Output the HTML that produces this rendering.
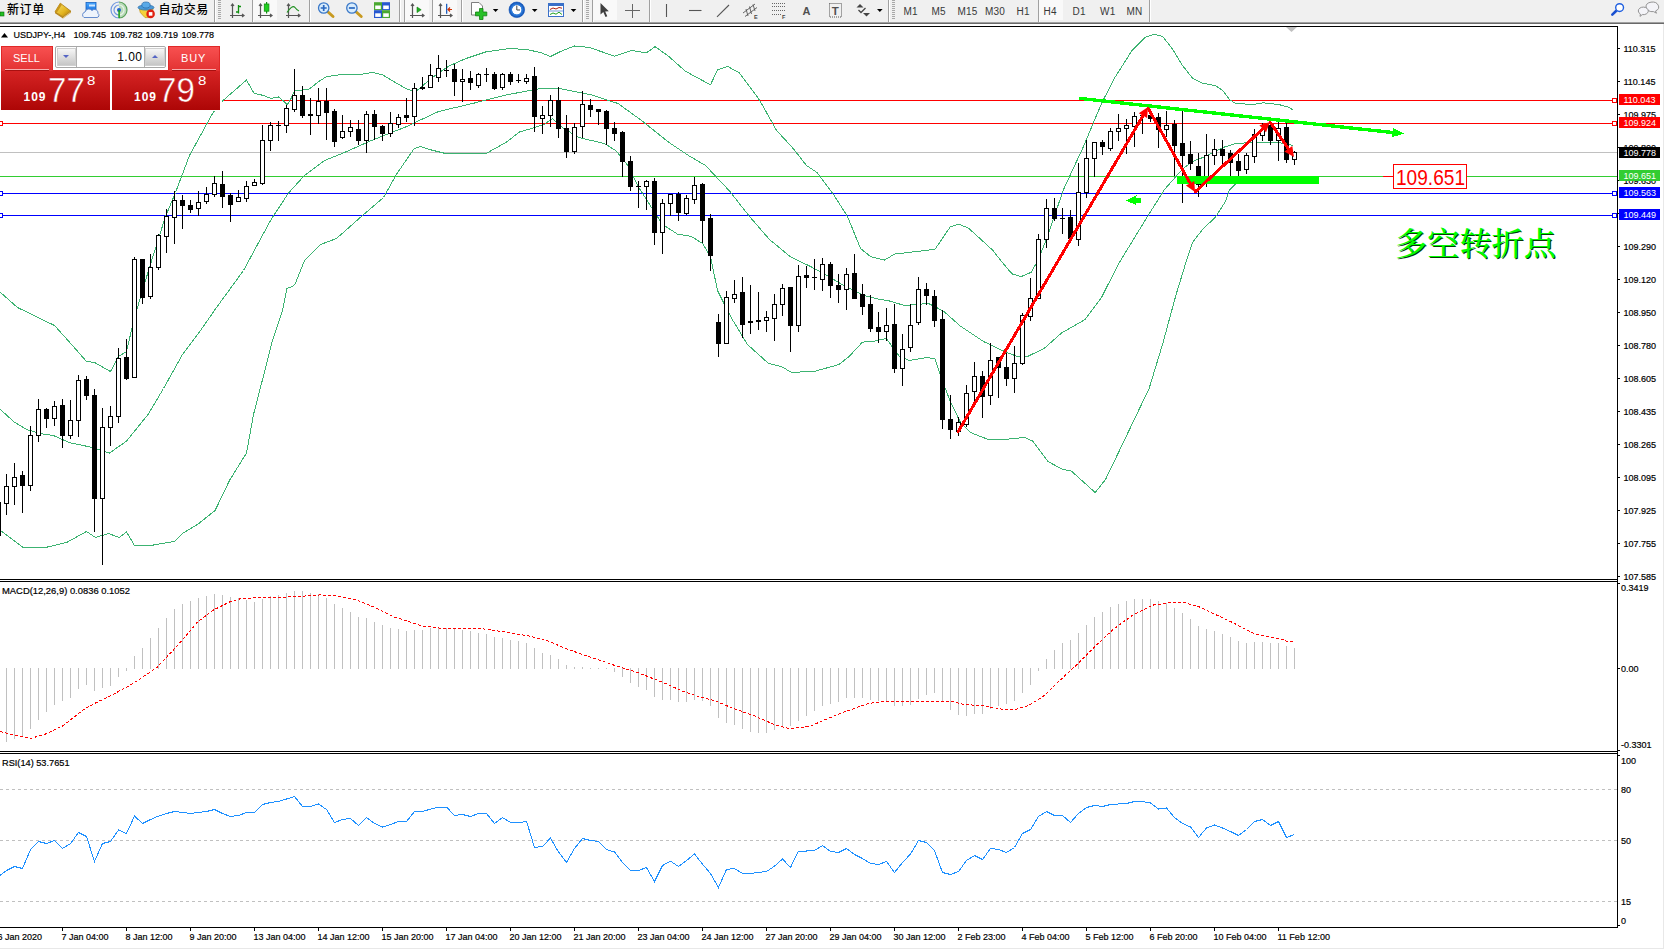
<!DOCTYPE html>
<html><head><meta charset="utf-8"><title>USDJPY-,H4</title>
<style>
html,body{margin:0;padding:0;}
body{width:1664px;height:949px;overflow:hidden;background:#fff;position:relative;font-family:'Liberation Sans', sans-serif;}
#tb{position:absolute;left:0;top:0;width:1664px;height:22px;background:#f0f0f0;overflow:hidden;}
#tbl1{position:absolute;left:0;top:22px;width:1664px;height:1px;background:#a0a0a0;}
#tbl2{position:absolute;left:0;top:23px;width:1664px;height:1px;background:#696969;}
.sep{position:absolute;top:0;width:1px;height:22px;background:#a0a0a0;border-right:1px solid #fff;}
.grip{position:absolute;top:0;width:3px;height:20px;background:repeating-linear-gradient(to bottom,#a8a8a8 0,#a8a8a8 1px,transparent 1px,transparent 2px);}
.pressed{position:absolute;top:0;height:20px;background:#f9f9f9;}
.tf{position:absolute;top:5.6px;font-size:10px;line-height:12px;color:#383838;white-space:nowrap;letter-spacing:0.2px;}
.cn{position:absolute;top:1px;font-size:12px;line-height:18px;color:#000;font-weight:500;letter-spacing:0.6px;white-space:nowrap;font-family:'Liberation Sans', 'Noto Sans CJK SC', sans-serif;}
.ico{position:absolute;left:0;top:0;}
#chart{position:absolute;left:0;top:0;}
#rb{position:absolute;left:1663px;top:24px;width:1px;height:925px;background:#e8e8e8;}
#bb{position:absolute;left:0;top:948px;width:1664px;height:1px;background:#e8e8e8;}
/* trade panel */
#tp{position:absolute;left:0;top:0;width:230px;height:115px;color:#fff;}
#tp div{position:absolute;box-sizing:border-box;}
.tab{background:linear-gradient(#f85050,#e23232);border:1px solid #e02828;}
.big{background:linear-gradient(#d62424,#ad0606);}
.lbl{font-size:11px;line-height:12px;color:#fff;}
.s109{font-size:12px;font-weight:700;line-height:12px;letter-spacing:1px;}
.sbig{font-size:34.5px;line-height:34.5px;-webkit-text-stroke:0.5px #c61b1b;transform-origin:left top;transform:scaleX(0.96);}
.ssup{font-size:12px;line-height:12px;transform-origin:left top;transform:scaleX(1.25);}
</style></head><body>
<div id="tb">
<div class="sep" style="left:214px"></div>
<div class="sep" style="left:252px"></div>
<div class="sep" style="left:309px"></div>
<div class="sep" style="left:399px"></div>
<div class="sep" style="left:404px"></div>
<div class="sep" style="left:432px"></div>
<div class="sep" style="left:461px"></div>
<div class="sep" style="left:582px"></div>
<div class="sep" style="left:592px"></div>
<div class="sep" style="left:649px"></div>
<div class="sep" style="left:888px"></div>
<div class="sep" style="left:1038px"></div>
<div class="sep" style="left:1149px"></div>
<div class="grip" style="left:218px"></div>
<div class="grip" style="left:586px"></div>
<div class="grip" style="left:892px"></div>
<div class="pressed" style="left:253px;width:24px"></div>
<div class="pressed" style="left:405px;width:24px"></div>
<div class="pressed" style="left:433px;width:24px"></div>
<div class="pressed" style="left:593px;width:24px"></div>
<div class="pressed" style="left:1039px;width:24px"></div>
<span class="cn" style="left:7px">新订单</span>
<span class="cn" style="left:158.5px">自动交易</span>
<span class="tf" style="left:903.5px">M1</span>
<span class="tf" style="left:931.5px">M5</span>
<span class="tf" style="left:957.5px">M15</span>
<span class="tf" style="left:985px">M30</span>
<span class="tf" style="left:1016.5px">H1</span>
<span class="tf" style="left:1043.5px">H4</span>
<span class="tf" style="left:1072.5px">D1</span>
<span class="tf" style="left:1100px">W1</span>
<span class="tf" style="left:1126.5px">MN</span>

<svg class="ico" width="1664" height="22" viewBox="0 0 1664 22">
<defs>
<linearGradient id="gold" x1="0" y1="0" x2="1" y2="1"><stop offset="0" stop-color="#fbe36a"/><stop offset="0.6" stop-color="#e2b420"/><stop offset="1" stop-color="#a06a08"/></linearGradient>
<linearGradient id="blu" x1="0" y1="0" x2="0" y2="1"><stop offset="0" stop-color="#4aa8ff"/><stop offset="1" stop-color="#1268d8"/></linearGradient>
<radialGradient id="clk"><stop offset="0.55" stop-color="#ffffff"/><stop offset="0.62" stop-color="#3a86e0"/><stop offset="1" stop-color="#0b4fb5"/></radialGradient>
</defs>
<!-- new order green piece -->
<rect x="0" y="12" width="4" height="4" fill="#22c022" stroke="#0a6a0a" stroke-width="0.6"/>
<!-- gold book -->
<polygon points="60.3,3.2 71,11.3 63,17 55,11.8" fill="url(#gold)" stroke="#a87810" stroke-width="0.8"/>
<polygon points="55,11.8 63,17 71,11.3 71,12.8 63,18.6 55,13.3" fill="#b8861a"/>
<polygon points="60.3,3.2 62,4.4 56.8,12.8 55,11.8" fill="#c8961c"/>
<line x1="63.2" y1="17.8" x2="70.6" y2="12.4" stroke="#fff6d0" stroke-width="0.6"/>
<!-- cloud/server -->
<rect x="86" y="2.5" width="10" height="10" fill="url(#blu)" stroke="#1560c0" stroke-width="0.8"/>
<rect x="89" y="4.5" width="6" height="2" fill="#cfe8ff"/>
<path d="M84,17.5 a3,3 0 0 1 1,-5.5 a4,4 0 0 1 7,-1.5 a3.5,3.5 0 0 1 6,3 a2.2,2.2 0 0 1 -1,4 z" fill="#eef4fc" stroke="#5580c8" stroke-width="0.9"/>
<!-- signal -->
<path d="M119,2 a8,8 0 0 1 0,16 z" fill="#a8d4a8" opacity="0.75"/>
<g fill="none" stroke-width="1.2">
<path d="M119,2 a8,8 0 0 0 0,16" stroke="#7098e0"/>
<path d="M119,5 a5,5 0 0 0 0,10" stroke="#7098e0"/>
<path d="M119,2 a8,8 0 0 1 0,16" stroke="#58a058"/>
<path d="M119,5 a5,5 0 0 1 0,10" stroke="#e8f4e8"/>
</g>
<circle cx="119" cy="10" r="2" fill="#2060d0"/>
<rect x="118.3" y="10" width="1.6" height="8" fill="#20a020"/>
<!-- expert hat -->
<polygon points="139.3,8.5 153,8.5 152.6,12.5 148.5,17.6 145,17.6 140.3,12.5" fill="#f4d23a" stroke="#c09010" stroke-width="0.7"/>
<ellipse cx="146" cy="7.5" rx="8" ry="2.6" fill="#4a9ad8" stroke="#2a6aa8" stroke-width="0.7"/>
<ellipse cx="146" cy="5" rx="4.2" ry="3" fill="#5aaae8" stroke="#2a6aa8" stroke-width="0.7"/>
<circle cx="150.6" cy="13.9" r="4.3" fill="#e02010"/>
<rect x="148.8" y="12.1" width="3.6" height="3.6" fill="#fff"/>
<!-- chart type icons -->
<g stroke="#555" stroke-width="1.2" fill="none">
<path d="M232.5,4.5 V18 M230,15.5 H243"/><path d="M231,6 L232.5,4 L234,6 M242,14 L244,15.5 L242,17"/>
<path d="M260.5,4.5 V18 M258,15.5 H271"/><path d="M259,6 L260.5,4 L262,6 M270,14 L272,15.5 L270,17"/>
<path d="M288.5,4.5 V18 M286,15.5 H299"/><path d="M287,6 L288.5,4 L290,6 M298,14 L300,15.5 L298,17"/>
<path d="M412.5,4.5 V18 M410,15.5 H423"/><path d="M411,6 L412.5,4 L414,6 M422,14 L424,15.5 L422,17"/>
<path d="M440.5,4.5 V18 M438,15.5 H451"/><path d="M439,6 L440.5,4 L442,6 M450,14 L452,15.5 L450,17"/>
</g>
<path d="M238.5,5 V13.5 M238.5,6.5 H241 M236,12 H238.5" stroke="#109010" stroke-width="1.3" fill="none"/>
<rect x="266" y="2" width="1.2" height="11.5" fill="#109010"/><rect x="264.3" y="4" width="4.6" height="7.2" fill="#20d020" stroke="#109010" stroke-width="0.8"/>
<path d="M287,12.5 C290,8 293,5 295,7.5 C296.5,9.5 297.5,10.5 299,11" stroke="#209020" stroke-width="1.2" fill="none"/>
<polygon points="417,7 421.2,9.8 417,12.6" fill="#20b020" stroke="#108010" stroke-width="0.6"/>
<rect x="446" y="3.8" width="1.3" height="10" fill="#2060c0"/>
<path d="M452,9.5 H448 M450,7.5 L448,9.5 L450,11.5" stroke="#d03000" stroke-width="1.2" fill="none"/>
<!-- zoom in/out -->
<g>
<line x1="327.5" y1="11.5" x2="333" y2="16.5" stroke="#c89a20" stroke-width="3" stroke-linecap="round"/>
<circle cx="323.7" cy="8" r="5.2" fill="#d8ecfc" stroke="#3a78c8" stroke-width="1.3"/>
<path d="M320.7,8 H326.7 M323.7,5 V11" stroke="#2a68c0" stroke-width="1.7"/>
<line x1="355.7" y1="11.5" x2="361.2" y2="16.5" stroke="#c89a20" stroke-width="3" stroke-linecap="round"/>
<circle cx="351.9" cy="8" r="5.2" fill="#d8ecfc" stroke="#3a78c8" stroke-width="1.3"/>
<path d="M348.9,8 H354.9" stroke="#2a68c0" stroke-width="1.7"/>
</g>
<!-- tile icon -->
<rect x="374" y="2.2" width="8" height="8" fill="#4aa830"/><rect x="382" y="2.2" width="8" height="8" fill="#2858d0"/>
<rect x="374" y="10.2" width="8" height="7.8" fill="#2858d0"/><rect x="382" y="10.2" width="8" height="7.8" fill="#4aa830"/>
<g fill="#fff"><rect x="375.2" y="5.5" width="5.6" height="3.6"/><rect x="383.2" y="5.5" width="5.6" height="3.6"/><rect x="375.2" y="13.3" width="5.6" height="3.6"/><rect x="383.2" y="13.3" width="5.6" height="3.6"/></g>
<!-- new chart -->
<path d="M471.5,2.5 H479 L482.5,6 V15 H471.5 Z" fill="#fff" stroke="#707070" stroke-width="0.9"/>
<path d="M479.5,8.5 H483 V12 H486.8 V15.8 H483 V19.5 H479.5 V15.8 H475.5 V12 H479.5 Z" fill="#28c028" stroke="#108010" stroke-width="0.8"/>
<polygon points="492.8,9 498.4,9 495.6,12" fill="#000"/>
<!-- clock -->
<circle cx="516.8" cy="9.8" r="7.8" fill="url(#clk)" stroke="#0b4fb5" stroke-width="0.6"/>
<path d="M516.8,5.5 V10 H520" stroke="#444" stroke-width="1" fill="none"/>
<polygon points="531.9,9 537.5,9 534.7,12" fill="#000"/>
<!-- indicators -->
<rect x="548.5" y="3.5" width="15" height="13" fill="#fff" stroke="#3a70c8" stroke-width="1"/>
<rect x="548.5" y="3.5" width="15" height="2.5" fill="#3a70c8"/>
<path d="M550,9.5 L553,8 L556,9 L559,7.5 L562,8.2" stroke="#b02010" stroke-width="1" fill="none"/>
<path d="M550,14.5 L553,13 L556,14.2 L559,12.2 L562,14.5" stroke="#20a020" stroke-width="1" fill="none"/>
<line x1="549" y1="11" x2="563" y2="11" stroke="#3a70c8" stroke-width="0.7"/>
<polygon points="570.7,9 576.3,9 573.5,12" fill="#000"/>
<!-- cursor -->
<polygon points="600.5,3 600.5,14.5 603.3,12 605.5,17 607.3,16.2 605.2,11.4 608.8,11.2" fill="#404040"/>
<!-- crosshair -->
<path d="M632.5,3.5 V17.5 M625,10.5 H640" stroke="#666" stroke-width="1" shape-rendering="crispEdges"/>
<!-- line tools -->
<path d="M666.5,4 V17" stroke="#555" stroke-width="1.1"/>
<path d="M689,10.5 H701.5" stroke="#555" stroke-width="1.1"/>
<path d="M717,16.8 L729,5" stroke="#555" stroke-width="1.1"/>
<g stroke="#555" stroke-width="0.9"><path d="M743,13 L755,4 M745,16.5 L757,7.5 M746,9 L748,16 M749.5,6.5 L751.5,14 M753,4.5 L755,11"/></g>
<g stroke="#666" stroke-width="1" stroke-dasharray="1,1"><path d="M772,3.5 H785 M772,6.5 H785 M772,10.5 H785 M772,14.5 H781"/></g>
<!-- A, T via text below -->
<rect x="829.5" y="3.5" width="12" height="13.5" fill="none" stroke="#555" stroke-width="1" stroke-dasharray="1,1"/>
<!-- arrows icon -->
<polygon points="860,4 863.5,7.5 856.5,7.5" fill="#444"/><polygon points="866.5,16.5 863,13 870,13" fill="#444"/>
<polygon points="860,11 863.5,7.5 856.5,7.5" fill="#444" opacity="0"/>
<path d="M858.5,10 L861,12.5 L865.5,8" stroke="#444" stroke-width="1.3" fill="none"/>
<polygon points="877,9 882.6,9 879.8,12" fill="#000"/>
<!-- search -->
<line x1="1616.3" y1="10.8" x2="1612.3" y2="14.6" stroke="#1a50d0" stroke-width="2.6" stroke-linecap="round"/>
<circle cx="1619.6" cy="7.6" r="3.9" fill="#fff" stroke="#2060e0" stroke-width="1.4"/>
<!-- chat bubbles -->
<path d="M1646,7 a6.3,4.8 0 1 1 9.5,4 l1,2.2 l-3,-1.6 a6.3,4.8 0 0 1 -7.5,-4.6 z" fill="#f4f4f8" stroke="#888" stroke-width="0.9"/>
<path d="M1638.3,11 a5,3.8 0 1 1 4,3.6 l-2.3,1.8 l0.4,-2.4 a5,3.8 0 0 1 -2.1,-3 z" fill="#f4f4f8" stroke="#888" stroke-width="0.9"/>
<text x="802.5" y="14.6" font-size="11" font-weight="700" fill="#505050" font-family="'Liberation Sans', sans-serif">A</text>
<text x="831.8" y="14.8" font-size="11.5" font-weight="700" fill="#505050" font-family="'Liberation Sans', sans-serif">T</text>
<text x="754" y="18.7" font-size="5.5" font-weight="700" fill="#444" font-family="'Liberation Sans', sans-serif">E</text>
<text x="782" y="18.7" font-size="5.5" font-weight="700" fill="#444" font-family="'Liberation Sans', sans-serif">F</text>
</svg>

</div>
<div id="tbl1"></div><div id="tbl2"></div>
<svg id="chart" width="1664" height="949" viewBox="0 0 1664 949">
<defs><clipPath id="mainclip"><rect x="0" y="27" width="1617" height="552"/></clipPath></defs>
<g shape-rendering="crispEdges">
<rect x="0" y="152" width="1617" height="1" fill="#c0c0c0"/>
<rect x="0" y="100" width="1617" height="1" fill="#ff0000"/>
<rect x="0" y="123" width="1617" height="1" fill="#ff0000"/>
<rect x="0" y="176" width="1617" height="1" fill="#32cd32"/>
<rect x="0" y="193" width="1617" height="1" fill="#0000ff"/>
<rect x="0" y="215" width="1617" height="1" fill="#0000ff"/>
</g>
<g clip-path="url(#mainclip)">
<polyline points="0.5,292.5 17.5,307.5 54.5,325.5 72.5,345.5 86.5,361.5 94.5,362.5 110.5,371.5 118.5,356.5 126.5,351.5 134.5,317.5 142.5,290.5 148.5,270.5 165.5,216.5 175.5,192.5 189.5,155.5 212.5,113.5 223.0,100.5 246.5,80.0 254.2,93.5 262.5,95.2 271.1,98.5 278.5,96.9 283.5,101.1 287.1,104.8 290.5,99.5 294.5,91.0 309.5,88.9 318.5,81.7 326.5,76.6 338.5,74.9 346.9,74.1 358.5,74.9 372.2,72.4 382.5,74.9 394.1,81.7 405.9,88.5 412.5,91.0 417.5,90.1 431.2,78.3 448.1,66.5 464.9,58.9 485.5,52.0 509.5,48.5 526.5,49.5 540.5,52.5 550.5,56.5 560.5,51.5 574.5,46.0 589.5,47.5 614.5,56.2 631.5,50.5 646.5,52.8 655.1,46.7 668.5,56.2 685.5,71.3 710.5,84.8 717.5,70.0 727.5,66.3 739.5,73.0 759.5,100.0 776.5,130.3 793.5,148.9 806.5,165.5 817.0,172.5 833.5,194.5 847.5,216.5 860.5,248.5 870.5,256.5 884.5,260.1 894.5,254.1 935.0,249.3 950.1,227.1 958.5,224.1 968.5,228.1 992.5,250.0 1000.8,260.5 1009.1,270.5 1012.5,274.0 1021.0,276.7 1031.1,272.3 1037.9,260.5 1046.2,239.9 1063.5,189.5 1083.5,146.5 1101.5,103.5 1114.5,78.1 1132.0,50.5 1145.5,37.1 1154.5,34.3 1162.5,36.3 1172.5,49.0 1182.5,65.5 1192.5,78.1 1202.5,83.1 1215.5,85.7 1223.0,90.7 1229.5,99.5 1235.5,103.5 1253.5,104.5 1263.5,102.8 1278.5,104.5 1288.5,107.1 1293.5,110.2" fill="none" stroke="#3cb371" stroke-width="1" shape-rendering="crispEdges"/>
<polyline points="0.5,409.5 13.5,421.5 26.5,429.5 40.0,433.5 53.5,435.5 69.0,442.5 92.5,447.5 109.5,453.0 126.5,441.1 148.0,414.5 163.5,388.5 182.5,354.5 200.5,330.5 216.5,307.5 243.5,270.5 270.5,220.5 288.5,193.0 304.5,175.5 324.5,160.5 344.5,152.5 371.5,140.5 405.5,127.0 438.5,111.5 472.5,103.5 506.5,94.9 540.5,88.5 557.5,88.2 591.5,94.9 618.0,103.5 641.5,120.5 668.5,142.1 688.5,155.5 705.5,165.5 729.5,191.0 749.5,216.5 769.5,239.5 790.0,256.5 810.5,266.5 827.1,275.5 843.5,285.5 864.5,295.5 877.5,298.9 889.5,301.0 904.5,305.5 928.5,303.5 943.5,311.1 960.5,326.2 983.5,341.5 1004.5,351.5 1017.5,356.5 1027.5,356.5 1044.5,348.2 1061.5,333.0 1085.1,319.5 1101.5,297.5 1118.5,263.9 1147.1,217.1 1164.5,189.5 1182.5,169.1 1192.5,161.5 1205.5,156.5 1223.0,147.5 1235.5,143.5 1253.5,142.5 1278.5,142.5 1293.5,145.5" fill="none" stroke="#3cb371" stroke-width="1" shape-rendering="crispEdges"/>
<polyline points="0.5,530.5 22.5,547.0 47.5,547.0 66.5,542.5 86.5,531.5 95.5,537.5 108.5,533.5 119.0,537.5 126.5,532.0 134.5,545.5 150.5,545.5 174.5,541.5 182.5,533.5 198.0,524.1 215.1,510.5 229.5,480.5 246.5,453.0 253.5,414.5 261.5,383.5 272.5,340.5 282.5,310.5 287.0,288.5 294.5,285.5 304.5,260.5 320.5,244.5 336.5,238.5 362.5,215.5 383.5,197.5 397.0,173.5 414.0,148.8 420.5,146.5 431.5,150.0 445.5,153.5 486.0,153.5 506.5,142.1 519.5,132.0 531.5,128.5 544.5,124.2 552.5,118.5 562.5,127.5 578.5,137.5 604.5,143.5 616.5,151.1 628.5,166.5 639.1,188.0 652.5,209.0 662.5,224.5 677.5,234.1 691.5,236.5 702.5,243.5 710.5,256.5 717.5,290.5 731.1,317.5 747.5,344.5 768.5,363.5 781.5,366.5 791.5,372.5 815.5,371.1 839.0,364.5 849.1,356.5 862.5,342.1 872.5,341.5 886.2,338.5 899.5,356.5 909.5,360.5 926.5,357.5 935.1,358.9 941.5,378.5 950.5,402.1 960.5,422.5 970.5,432.5 987.5,439.2 1007.5,439.2 1024.5,437.5 1032.5,440.9 1048.0,461.5 1061.5,468.9 1071.5,471.2 1095.2,492.5 1105.5,479.5 1118.5,452.5 1149.1,388.5 1162.5,344.5 1176.1,294.5 1186.5,260.5 1192.5,242.5 1202.5,229.5 1215.5,217.1 1225.5,201.5 1229.5,190.0 1234.5,185.0 1240.5,181.5 1293.5,181.5" fill="none" stroke="#3cb371" stroke-width="1" shape-rendering="crispEdges"/>
</g>
<g shape-rendering="crispEdges">
<rect x="-2" y="498" width="1" height="43" fill="#000"/>
<rect x="-4" y="502" width="5" height="34" fill="#000"/>
<rect x="6" y="474" width="1" height="41" fill="#000"/>
<rect x="4" y="486" width="5" height="18" fill="#000"/>
<rect x="5" y="487" width="3" height="16" fill="#fff"/>
<rect x="14" y="463" width="1" height="42" fill="#000"/>
<rect x="12" y="477" width="5" height="10" fill="#000"/>
<rect x="13" y="478" width="3" height="8" fill="#fff"/>
<rect x="22" y="471" width="1" height="42" fill="#000"/>
<rect x="20" y="475" width="5" height="11" fill="#000"/>
<rect x="30" y="426" width="1" height="65" fill="#000"/>
<rect x="28" y="435" width="5" height="51" fill="#000"/>
<rect x="29" y="436" width="3" height="49" fill="#fff"/>
<rect x="38" y="399" width="1" height="43" fill="#000"/>
<rect x="36" y="409" width="5" height="27" fill="#000"/>
<rect x="37" y="410" width="3" height="25" fill="#fff"/>
<rect x="46" y="408" width="1" height="20" fill="#000"/>
<rect x="44" y="409" width="5" height="10" fill="#000"/>
<rect x="54" y="401" width="1" height="25" fill="#000"/>
<rect x="52" y="406" width="5" height="13" fill="#000"/>
<rect x="53" y="407" width="3" height="11" fill="#fff"/>
<rect x="62" y="399" width="1" height="49" fill="#000"/>
<rect x="60" y="405" width="5" height="31" fill="#000"/>
<rect x="70" y="400" width="1" height="39" fill="#000"/>
<rect x="68" y="420" width="5" height="16" fill="#000"/>
<rect x="69" y="421" width="3" height="14" fill="#fff"/>
<rect x="78" y="375" width="1" height="62" fill="#000"/>
<rect x="76" y="380" width="5" height="41" fill="#000"/>
<rect x="77" y="381" width="3" height="39" fill="#fff"/>
<rect x="86" y="376" width="1" height="24" fill="#000"/>
<rect x="84" y="379" width="5" height="17" fill="#000"/>
<rect x="94" y="389" width="1" height="143" fill="#000"/>
<rect x="92" y="395" width="5" height="104" fill="#000"/>
<rect x="102" y="408" width="1" height="157" fill="#000"/>
<rect x="100" y="427" width="5" height="72" fill="#000"/>
<rect x="101" y="428" width="3" height="70" fill="#fff"/>
<rect x="110" y="406" width="1" height="40" fill="#000"/>
<rect x="108" y="416" width="5" height="12" fill="#000"/>
<rect x="109" y="417" width="3" height="10" fill="#fff"/>
<rect x="118" y="348" width="1" height="75" fill="#000"/>
<rect x="116" y="358" width="5" height="59" fill="#000"/>
<rect x="117" y="359" width="3" height="57" fill="#fff"/>
<rect x="126" y="339" width="1" height="41" fill="#000"/>
<rect x="124" y="357" width="5" height="22" fill="#000"/>
<rect x="134" y="257" width="1" height="121" fill="#000"/>
<rect x="132" y="259" width="5" height="119" fill="#000"/>
<rect x="133" y="260" width="3" height="117" fill="#fff"/>
<rect x="142" y="259" width="1" height="45" fill="#000"/>
<rect x="140" y="259" width="5" height="39" fill="#000"/>
<rect x="150" y="254" width="1" height="45" fill="#000"/>
<rect x="148" y="267" width="5" height="30" fill="#000"/>
<rect x="149" y="268" width="3" height="28" fill="#fff"/>
<rect x="158" y="234" width="1" height="36" fill="#000"/>
<rect x="156" y="235" width="5" height="33" fill="#000"/>
<rect x="157" y="236" width="3" height="31" fill="#fff"/>
<rect x="166" y="209" width="1" height="44" fill="#000"/>
<rect x="164" y="216" width="5" height="21" fill="#000"/>
<rect x="165" y="217" width="3" height="19" fill="#fff"/>
<rect x="174" y="191" width="1" height="53" fill="#000"/>
<rect x="172" y="200" width="5" height="18" fill="#000"/>
<rect x="173" y="201" width="3" height="16" fill="#fff"/>
<rect x="182" y="195" width="1" height="34" fill="#000"/>
<rect x="180" y="200" width="5" height="6" fill="#000"/>
<rect x="190" y="200" width="1" height="13" fill="#000"/>
<rect x="188" y="205" width="5" height="5" fill="#000"/>
<rect x="198" y="191" width="1" height="25" fill="#000"/>
<rect x="196" y="202" width="5" height="7" fill="#000"/>
<rect x="197" y="203" width="3" height="5" fill="#fff"/>
<rect x="206" y="187" width="1" height="17" fill="#000"/>
<rect x="204" y="194" width="5" height="8" fill="#000"/>
<rect x="205" y="195" width="3" height="6" fill="#fff"/>
<rect x="214" y="176" width="1" height="21" fill="#000"/>
<rect x="212" y="183" width="5" height="12" fill="#000"/>
<rect x="213" y="184" width="3" height="10" fill="#fff"/>
<rect x="222" y="171" width="1" height="37" fill="#000"/>
<rect x="220" y="184" width="5" height="13" fill="#000"/>
<rect x="230" y="193" width="1" height="29" fill="#000"/>
<rect x="228" y="195" width="5" height="10" fill="#000"/>
<rect x="238" y="190" width="1" height="12" fill="#000"/>
<rect x="236" y="197" width="5" height="5" fill="#000"/>
<rect x="237" y="198" width="3" height="3" fill="#fff"/>
<rect x="246" y="181" width="1" height="21" fill="#000"/>
<rect x="244" y="186" width="5" height="13" fill="#000"/>
<rect x="245" y="187" width="3" height="11" fill="#fff"/>
<rect x="254" y="179" width="1" height="7" fill="#000"/>
<rect x="252" y="182" width="5" height="4" fill="#000"/>
<rect x="253" y="183" width="3" height="2" fill="#fff"/>
<rect x="262" y="125" width="1" height="60" fill="#000"/>
<rect x="260" y="140" width="5" height="44" fill="#000"/>
<rect x="261" y="141" width="3" height="42" fill="#fff"/>
<rect x="270" y="122" width="1" height="29" fill="#000"/>
<rect x="268" y="125" width="5" height="16" fill="#000"/>
<rect x="269" y="126" width="3" height="14" fill="#fff"/>
<rect x="278" y="121" width="1" height="20" fill="#000"/>
<rect x="276" y="125" width="5" height="1" fill="#000"/>
<rect x="286" y="105" width="1" height="28" fill="#000"/>
<rect x="284" y="108" width="5" height="18" fill="#000"/>
<rect x="285" y="109" width="3" height="16" fill="#fff"/>
<rect x="294" y="69" width="1" height="43" fill="#000"/>
<rect x="292" y="95" width="5" height="15" fill="#000"/>
<rect x="293" y="96" width="3" height="13" fill="#fff"/>
<rect x="302" y="86" width="1" height="32" fill="#000"/>
<rect x="300" y="95" width="5" height="21" fill="#000"/>
<rect x="310" y="98" width="1" height="37" fill="#000"/>
<rect x="308" y="114" width="5" height="2" fill="#000"/>
<rect x="318" y="88" width="1" height="36" fill="#000"/>
<rect x="316" y="101" width="5" height="15" fill="#000"/>
<rect x="317" y="102" width="3" height="13" fill="#fff"/>
<rect x="326" y="88" width="1" height="52" fill="#000"/>
<rect x="324" y="101" width="5" height="12" fill="#000"/>
<rect x="334" y="109" width="1" height="38" fill="#000"/>
<rect x="332" y="111" width="5" height="31" fill="#000"/>
<rect x="342" y="115" width="1" height="24" fill="#000"/>
<rect x="340" y="131" width="5" height="7" fill="#000"/>
<rect x="341" y="132" width="3" height="5" fill="#fff"/>
<rect x="350" y="120" width="1" height="17" fill="#000"/>
<rect x="348" y="127" width="5" height="5" fill="#000"/>
<rect x="349" y="128" width="3" height="3" fill="#fff"/>
<rect x="358" y="120" width="1" height="25" fill="#000"/>
<rect x="356" y="129" width="5" height="12" fill="#000"/>
<rect x="366" y="111" width="1" height="42" fill="#000"/>
<rect x="364" y="114" width="5" height="27" fill="#000"/>
<rect x="365" y="115" width="3" height="25" fill="#fff"/>
<rect x="374" y="110" width="1" height="30" fill="#000"/>
<rect x="372" y="114" width="5" height="13" fill="#000"/>
<rect x="382" y="125" width="1" height="16" fill="#000"/>
<rect x="380" y="126" width="5" height="8" fill="#000"/>
<rect x="390" y="112" width="1" height="25" fill="#000"/>
<rect x="388" y="123" width="5" height="11" fill="#000"/>
<rect x="389" y="124" width="3" height="9" fill="#fff"/>
<rect x="398" y="114" width="1" height="14" fill="#000"/>
<rect x="396" y="117" width="5" height="8" fill="#000"/>
<rect x="397" y="118" width="3" height="6" fill="#fff"/>
<rect x="406" y="98" width="1" height="24" fill="#000"/>
<rect x="404" y="115" width="5" height="3" fill="#000"/>
<rect x="414" y="83" width="1" height="43" fill="#000"/>
<rect x="412" y="88" width="5" height="29" fill="#000"/>
<rect x="413" y="89" width="3" height="27" fill="#fff"/>
<rect x="422" y="77" width="1" height="13" fill="#000"/>
<rect x="420" y="87" width="5" height="2" fill="#000"/>
<rect x="430" y="64" width="1" height="24" fill="#000"/>
<rect x="428" y="75" width="5" height="13" fill="#000"/>
<rect x="429" y="76" width="3" height="11" fill="#fff"/>
<rect x="438" y="55" width="1" height="27" fill="#000"/>
<rect x="436" y="68" width="5" height="10" fill="#000"/>
<rect x="437" y="69" width="3" height="8" fill="#fff"/>
<rect x="446" y="60" width="1" height="17" fill="#000"/>
<rect x="444" y="70" width="5" height="1" fill="#000"/>
<rect x="454" y="64" width="1" height="32" fill="#000"/>
<rect x="452" y="69" width="5" height="13" fill="#000"/>
<rect x="462" y="69" width="1" height="33" fill="#000"/>
<rect x="460" y="79" width="5" height="3" fill="#000"/>
<rect x="461" y="80" width="3" height="1" fill="#fff"/>
<rect x="470" y="71" width="1" height="19" fill="#000"/>
<rect x="468" y="78" width="5" height="5" fill="#000"/>
<rect x="478" y="73" width="1" height="15" fill="#000"/>
<rect x="476" y="74" width="5" height="12" fill="#000"/>
<rect x="477" y="75" width="3" height="10" fill="#fff"/>
<rect x="486" y="68" width="1" height="14" fill="#000"/>
<rect x="484" y="74" width="5" height="1" fill="#000"/>
<rect x="494" y="72" width="1" height="18" fill="#000"/>
<rect x="492" y="74" width="5" height="15" fill="#000"/>
<rect x="502" y="73" width="1" height="17" fill="#000"/>
<rect x="500" y="74" width="5" height="14" fill="#000"/>
<rect x="501" y="75" width="3" height="12" fill="#fff"/>
<rect x="510" y="72" width="1" height="13" fill="#000"/>
<rect x="508" y="74" width="5" height="8" fill="#000"/>
<rect x="518" y="74" width="1" height="9" fill="#000"/>
<rect x="516" y="80" width="5" height="1" fill="#000"/>
<rect x="526" y="74" width="1" height="10" fill="#000"/>
<rect x="524" y="78" width="5" height="4" fill="#000"/>
<rect x="525" y="79" width="3" height="2" fill="#fff"/>
<rect x="534" y="67" width="1" height="65" fill="#000"/>
<rect x="532" y="76" width="5" height="41" fill="#000"/>
<rect x="542" y="106" width="1" height="28" fill="#000"/>
<rect x="540" y="115" width="5" height="4" fill="#000"/>
<rect x="541" y="116" width="3" height="2" fill="#fff"/>
<rect x="550" y="95" width="1" height="32" fill="#000"/>
<rect x="548" y="100" width="5" height="16" fill="#000"/>
<rect x="549" y="101" width="3" height="14" fill="#fff"/>
<rect x="558" y="87" width="1" height="51" fill="#000"/>
<rect x="556" y="100" width="5" height="29" fill="#000"/>
<rect x="566" y="115" width="1" height="43" fill="#000"/>
<rect x="564" y="128" width="5" height="24" fill="#000"/>
<rect x="574" y="123" width="1" height="31" fill="#000"/>
<rect x="572" y="127" width="5" height="25" fill="#000"/>
<rect x="573" y="128" width="3" height="23" fill="#fff"/>
<rect x="582" y="91" width="1" height="47" fill="#000"/>
<rect x="580" y="104" width="5" height="23" fill="#000"/>
<rect x="581" y="105" width="3" height="21" fill="#fff"/>
<rect x="590" y="99" width="1" height="18" fill="#000"/>
<rect x="588" y="105" width="5" height="5" fill="#000"/>
<rect x="598" y="109" width="1" height="16" fill="#000"/>
<rect x="596" y="109" width="5" height="3" fill="#000"/>
<rect x="606" y="110" width="1" height="35" fill="#000"/>
<rect x="604" y="111" width="5" height="18" fill="#000"/>
<rect x="614" y="122" width="1" height="19" fill="#000"/>
<rect x="612" y="128" width="5" height="6" fill="#000"/>
<rect x="622" y="131" width="1" height="46" fill="#000"/>
<rect x="620" y="132" width="5" height="30" fill="#000"/>
<rect x="630" y="156" width="1" height="35" fill="#000"/>
<rect x="628" y="161" width="5" height="26" fill="#000"/>
<rect x="638" y="181" width="1" height="27" fill="#000"/>
<rect x="636" y="186" width="5" height="1" fill="#000"/>
<rect x="646" y="180" width="1" height="30" fill="#000"/>
<rect x="644" y="181" width="5" height="6" fill="#000"/>
<rect x="645" y="182" width="3" height="4" fill="#fff"/>
<rect x="654" y="178" width="1" height="67" fill="#000"/>
<rect x="652" y="181" width="5" height="52" fill="#000"/>
<rect x="662" y="199" width="1" height="55" fill="#000"/>
<rect x="660" y="203" width="5" height="30" fill="#000"/>
<rect x="661" y="204" width="3" height="28" fill="#fff"/>
<rect x="670" y="194" width="1" height="22" fill="#000"/>
<rect x="668" y="194" width="5" height="10" fill="#000"/>
<rect x="669" y="195" width="3" height="8" fill="#fff"/>
<rect x="678" y="192" width="1" height="29" fill="#000"/>
<rect x="676" y="194" width="5" height="19" fill="#000"/>
<rect x="686" y="195" width="1" height="20" fill="#000"/>
<rect x="684" y="198" width="5" height="16" fill="#000"/>
<rect x="685" y="199" width="3" height="14" fill="#fff"/>
<rect x="694" y="177" width="1" height="27" fill="#000"/>
<rect x="692" y="185" width="5" height="15" fill="#000"/>
<rect x="693" y="186" width="3" height="13" fill="#fff"/>
<rect x="702" y="183" width="1" height="60" fill="#000"/>
<rect x="700" y="184" width="5" height="37" fill="#000"/>
<rect x="710" y="214" width="1" height="57" fill="#000"/>
<rect x="708" y="218" width="5" height="38" fill="#000"/>
<rect x="718" y="314" width="1" height="43" fill="#000"/>
<rect x="716" y="322" width="5" height="22" fill="#000"/>
<rect x="726" y="291" width="1" height="53" fill="#000"/>
<rect x="724" y="297" width="5" height="47" fill="#000"/>
<rect x="725" y="298" width="3" height="45" fill="#fff"/>
<rect x="734" y="280" width="1" height="23" fill="#000"/>
<rect x="732" y="294" width="5" height="5" fill="#000"/>
<rect x="733" y="295" width="3" height="3" fill="#fff"/>
<rect x="742" y="277" width="1" height="61" fill="#000"/>
<rect x="740" y="292" width="5" height="33" fill="#000"/>
<rect x="750" y="285" width="1" height="49" fill="#000"/>
<rect x="748" y="321" width="5" height="2" fill="#000"/>
<rect x="758" y="292" width="1" height="38" fill="#000"/>
<rect x="756" y="320" width="5" height="2" fill="#000"/>
<rect x="766" y="311" width="1" height="21" fill="#000"/>
<rect x="764" y="317" width="5" height="4" fill="#000"/>
<rect x="765" y="318" width="3" height="2" fill="#fff"/>
<rect x="774" y="294" width="1" height="47" fill="#000"/>
<rect x="772" y="304" width="5" height="15" fill="#000"/>
<rect x="773" y="305" width="3" height="13" fill="#fff"/>
<rect x="782" y="284" width="1" height="32" fill="#000"/>
<rect x="780" y="288" width="5" height="17" fill="#000"/>
<rect x="781" y="289" width="3" height="15" fill="#fff"/>
<rect x="790" y="287" width="1" height="65" fill="#000"/>
<rect x="788" y="287" width="5" height="39" fill="#000"/>
<rect x="798" y="265" width="1" height="67" fill="#000"/>
<rect x="796" y="276" width="5" height="50" fill="#000"/>
<rect x="797" y="277" width="3" height="48" fill="#fff"/>
<rect x="806" y="266" width="1" height="22" fill="#000"/>
<rect x="804" y="275" width="5" height="3" fill="#000"/>
<rect x="814" y="259" width="1" height="31" fill="#000"/>
<rect x="812" y="277" width="5" height="1" fill="#000"/>
<rect x="822" y="258" width="1" height="33" fill="#000"/>
<rect x="820" y="264" width="5" height="16" fill="#000"/>
<rect x="821" y="265" width="3" height="14" fill="#fff"/>
<rect x="830" y="262" width="1" height="36" fill="#000"/>
<rect x="828" y="264" width="5" height="22" fill="#000"/>
<rect x="838" y="274" width="1" height="29" fill="#000"/>
<rect x="836" y="285" width="5" height="5" fill="#000"/>
<rect x="846" y="268" width="1" height="42" fill="#000"/>
<rect x="844" y="274" width="5" height="16" fill="#000"/>
<rect x="845" y="275" width="3" height="14" fill="#fff"/>
<rect x="854" y="254" width="1" height="45" fill="#000"/>
<rect x="852" y="273" width="5" height="26" fill="#000"/>
<rect x="862" y="284" width="1" height="31" fill="#000"/>
<rect x="860" y="294" width="5" height="13" fill="#000"/>
<rect x="870" y="295" width="1" height="37" fill="#000"/>
<rect x="868" y="304" width="5" height="25" fill="#000"/>
<rect x="878" y="312" width="1" height="31" fill="#000"/>
<rect x="876" y="327" width="5" height="5" fill="#000"/>
<rect x="886" y="308" width="1" height="33" fill="#000"/>
<rect x="884" y="325" width="5" height="7" fill="#000"/>
<rect x="885" y="326" width="3" height="5" fill="#fff"/>
<rect x="894" y="304" width="1" height="69" fill="#000"/>
<rect x="892" y="324" width="5" height="45" fill="#000"/>
<rect x="902" y="334" width="1" height="52" fill="#000"/>
<rect x="900" y="349" width="5" height="20" fill="#000"/>
<rect x="901" y="350" width="3" height="18" fill="#fff"/>
<rect x="910" y="304" width="1" height="48" fill="#000"/>
<rect x="908" y="325" width="5" height="23" fill="#000"/>
<rect x="909" y="326" width="3" height="21" fill="#fff"/>
<rect x="918" y="277" width="1" height="48" fill="#000"/>
<rect x="916" y="289" width="5" height="34" fill="#000"/>
<rect x="917" y="290" width="3" height="32" fill="#fff"/>
<rect x="926" y="283" width="1" height="22" fill="#000"/>
<rect x="924" y="289" width="5" height="7" fill="#000"/>
<rect x="934" y="290" width="1" height="37" fill="#000"/>
<rect x="932" y="296" width="5" height="25" fill="#000"/>
<rect x="942" y="310" width="1" height="119" fill="#000"/>
<rect x="940" y="319" width="5" height="101" fill="#000"/>
<rect x="950" y="395" width="1" height="44" fill="#000"/>
<rect x="948" y="419" width="5" height="11" fill="#000"/>
<rect x="958" y="417" width="1" height="19" fill="#000"/>
<rect x="956" y="422" width="5" height="10" fill="#000"/>
<rect x="957" y="423" width="3" height="8" fill="#fff"/>
<rect x="966" y="385" width="1" height="42" fill="#000"/>
<rect x="964" y="393" width="5" height="32" fill="#000"/>
<rect x="965" y="394" width="3" height="30" fill="#fff"/>
<rect x="974" y="362" width="1" height="45" fill="#000"/>
<rect x="972" y="376" width="5" height="16" fill="#000"/>
<rect x="973" y="377" width="3" height="14" fill="#fff"/>
<rect x="982" y="371" width="1" height="47" fill="#000"/>
<rect x="980" y="376" width="5" height="21" fill="#000"/>
<rect x="990" y="343" width="1" height="62" fill="#000"/>
<rect x="988" y="360" width="5" height="36" fill="#000"/>
<rect x="989" y="361" width="3" height="34" fill="#fff"/>
<rect x="998" y="357" width="1" height="41" fill="#000"/>
<rect x="996" y="357" width="5" height="11" fill="#000"/>
<rect x="1006" y="353" width="1" height="33" fill="#000"/>
<rect x="1004" y="367" width="5" height="12" fill="#000"/>
<rect x="1014" y="346" width="1" height="47" fill="#000"/>
<rect x="1012" y="363" width="5" height="16" fill="#000"/>
<rect x="1013" y="364" width="3" height="14" fill="#fff"/>
<rect x="1022" y="313" width="1" height="52" fill="#000"/>
<rect x="1020" y="315" width="5" height="49" fill="#000"/>
<rect x="1021" y="316" width="3" height="47" fill="#fff"/>
<rect x="1030" y="278" width="1" height="43" fill="#000"/>
<rect x="1028" y="298" width="5" height="19" fill="#000"/>
<rect x="1029" y="299" width="3" height="17" fill="#fff"/>
<rect x="1038" y="234" width="1" height="65" fill="#000"/>
<rect x="1036" y="239" width="5" height="60" fill="#000"/>
<rect x="1037" y="240" width="3" height="58" fill="#fff"/>
<rect x="1046" y="199" width="1" height="49" fill="#000"/>
<rect x="1044" y="208" width="5" height="32" fill="#000"/>
<rect x="1045" y="209" width="3" height="30" fill="#fff"/>
<rect x="1054" y="198" width="1" height="23" fill="#000"/>
<rect x="1052" y="208" width="5" height="11" fill="#000"/>
<rect x="1062" y="208" width="1" height="26" fill="#000"/>
<rect x="1060" y="218" width="5" height="1" fill="#000"/>
<rect x="1070" y="210" width="1" height="33" fill="#000"/>
<rect x="1068" y="217" width="5" height="22" fill="#000"/>
<rect x="1078" y="163" width="1" height="83" fill="#000"/>
<rect x="1076" y="192" width="5" height="48" fill="#000"/>
<rect x="1077" y="193" width="3" height="46" fill="#fff"/>
<rect x="1086" y="140" width="1" height="58" fill="#000"/>
<rect x="1084" y="158" width="5" height="35" fill="#000"/>
<rect x="1085" y="159" width="3" height="33" fill="#fff"/>
<rect x="1094" y="142" width="1" height="35" fill="#000"/>
<rect x="1092" y="142" width="5" height="17" fill="#000"/>
<rect x="1093" y="143" width="3" height="15" fill="#fff"/>
<rect x="1102" y="140" width="1" height="15" fill="#000"/>
<rect x="1100" y="142" width="5" height="5" fill="#000"/>
<rect x="1110" y="128" width="1" height="23" fill="#000"/>
<rect x="1108" y="131" width="5" height="18" fill="#000"/>
<rect x="1109" y="132" width="3" height="16" fill="#fff"/>
<rect x="1118" y="114" width="1" height="27" fill="#000"/>
<rect x="1116" y="128" width="5" height="4" fill="#000"/>
<rect x="1117" y="129" width="3" height="2" fill="#fff"/>
<rect x="1126" y="119" width="1" height="35" fill="#000"/>
<rect x="1124" y="125" width="5" height="4" fill="#000"/>
<rect x="1125" y="126" width="3" height="2" fill="#fff"/>
<rect x="1134" y="112" width="1" height="35" fill="#000"/>
<rect x="1132" y="116" width="5" height="11" fill="#000"/>
<rect x="1133" y="117" width="3" height="9" fill="#fff"/>
<rect x="1142" y="113" width="1" height="21" fill="#000"/>
<rect x="1140" y="115" width="5" height="1" fill="#000"/>
<rect x="1150" y="110" width="1" height="12" fill="#000"/>
<rect x="1148" y="115" width="5" height="4" fill="#000"/>
<rect x="1158" y="113" width="1" height="35" fill="#000"/>
<rect x="1156" y="117" width="5" height="13" fill="#000"/>
<rect x="1166" y="111" width="1" height="26" fill="#000"/>
<rect x="1164" y="125" width="5" height="5" fill="#000"/>
<rect x="1165" y="126" width="3" height="3" fill="#fff"/>
<rect x="1174" y="120" width="1" height="56" fill="#000"/>
<rect x="1172" y="124" width="5" height="22" fill="#000"/>
<rect x="1182" y="111" width="1" height="92" fill="#000"/>
<rect x="1180" y="143" width="5" height="13" fill="#000"/>
<rect x="1190" y="141" width="1" height="29" fill="#000"/>
<rect x="1188" y="154" width="5" height="10" fill="#000"/>
<rect x="1198" y="153" width="1" height="44" fill="#000"/>
<rect x="1196" y="166" width="5" height="19" fill="#000"/>
<rect x="1206" y="134" width="1" height="53" fill="#000"/>
<rect x="1204" y="155" width="5" height="29" fill="#000"/>
<rect x="1205" y="156" width="3" height="27" fill="#fff"/>
<rect x="1214" y="139" width="1" height="26" fill="#000"/>
<rect x="1212" y="149" width="5" height="7" fill="#000"/>
<rect x="1213" y="150" width="3" height="5" fill="#fff"/>
<rect x="1222" y="140" width="1" height="26" fill="#000"/>
<rect x="1220" y="149" width="5" height="7" fill="#000"/>
<rect x="1230" y="150" width="1" height="27" fill="#000"/>
<rect x="1228" y="153" width="5" height="10" fill="#000"/>
<rect x="1238" y="154" width="1" height="23" fill="#000"/>
<rect x="1236" y="161" width="5" height="10" fill="#000"/>
<rect x="1246" y="153" width="1" height="21" fill="#000"/>
<rect x="1244" y="155" width="5" height="15" fill="#000"/>
<rect x="1245" y="156" width="3" height="13" fill="#fff"/>
<rect x="1254" y="129" width="1" height="34" fill="#000"/>
<rect x="1252" y="134" width="5" height="23" fill="#000"/>
<rect x="1253" y="135" width="3" height="21" fill="#fff"/>
<rect x="1262" y="123" width="1" height="18" fill="#000"/>
<rect x="1260" y="129" width="5" height="7" fill="#000"/>
<rect x="1261" y="130" width="3" height="5" fill="#fff"/>
<rect x="1270" y="121" width="1" height="24" fill="#000"/>
<rect x="1268" y="125" width="5" height="16" fill="#000"/>
<rect x="1278" y="122" width="1" height="39" fill="#000"/>
<rect x="1276" y="128" width="5" height="13" fill="#000"/>
<rect x="1277" y="129" width="3" height="11" fill="#fff"/>
<rect x="1286" y="123" width="1" height="40" fill="#000"/>
<rect x="1284" y="127" width="5" height="33" fill="#000"/>
<rect x="1294" y="151" width="1" height="14" fill="#000"/>
<rect x="1292" y="152" width="5" height="8" fill="#000"/>
<rect x="1293" y="153" width="3" height="6" fill="#fff"/>
</g>
<g shape-rendering="crispEdges">
<rect x="6" y="668" width="1" height="74" fill="#c0c0c0"/>
<rect x="14" y="668" width="1" height="71" fill="#c0c0c0"/>
<rect x="22" y="668" width="1" height="68" fill="#c0c0c0"/>
<rect x="30" y="668" width="1" height="61" fill="#c0c0c0"/>
<rect x="38" y="668" width="1" height="52" fill="#c0c0c0"/>
<rect x="46" y="668" width="1" height="44" fill="#c0c0c0"/>
<rect x="54" y="668" width="1" height="37" fill="#c0c0c0"/>
<rect x="62" y="668" width="1" height="33" fill="#c0c0c0"/>
<rect x="70" y="668" width="1" height="30" fill="#c0c0c0"/>
<rect x="78" y="668" width="1" height="21" fill="#c0c0c0"/>
<rect x="86" y="668" width="1" height="17" fill="#c0c0c0"/>
<rect x="94" y="668" width="1" height="23" fill="#c0c0c0"/>
<rect x="102" y="668" width="1" height="20" fill="#c0c0c0"/>
<rect x="110" y="668" width="1" height="18" fill="#c0c0c0"/>
<rect x="118" y="668" width="1" height="9" fill="#c0c0c0"/>
<rect x="126" y="668" width="1" height="3" fill="#c0c0c0"/>
<rect x="134" y="656" width="1" height="13" fill="#c0c0c0"/>
<rect x="142" y="648" width="1" height="21" fill="#c0c0c0"/>
<rect x="150" y="638" width="1" height="31" fill="#c0c0c0"/>
<rect x="158" y="628" width="1" height="41" fill="#c0c0c0"/>
<rect x="166" y="618" width="1" height="51" fill="#c0c0c0"/>
<rect x="174" y="609" width="1" height="60" fill="#c0c0c0"/>
<rect x="182" y="604" width="1" height="65" fill="#c0c0c0"/>
<rect x="190" y="601" width="1" height="68" fill="#c0c0c0"/>
<rect x="198" y="598" width="1" height="71" fill="#c0c0c0"/>
<rect x="206" y="596" width="1" height="73" fill="#c0c0c0"/>
<rect x="214" y="594" width="1" height="75" fill="#c0c0c0"/>
<rect x="222" y="595" width="1" height="74" fill="#c0c0c0"/>
<rect x="230" y="597" width="1" height="72" fill="#c0c0c0"/>
<rect x="238" y="598" width="1" height="71" fill="#c0c0c0"/>
<rect x="246" y="600" width="1" height="69" fill="#c0c0c0"/>
<rect x="254" y="602" width="1" height="67" fill="#c0c0c0"/>
<rect x="262" y="599" width="1" height="70" fill="#c0c0c0"/>
<rect x="270" y="596" width="1" height="73" fill="#c0c0c0"/>
<rect x="278" y="595" width="1" height="74" fill="#c0c0c0"/>
<rect x="286" y="593" width="1" height="76" fill="#c0c0c0"/>
<rect x="294" y="591" width="1" height="78" fill="#c0c0c0"/>
<rect x="302" y="591" width="1" height="78" fill="#c0c0c0"/>
<rect x="310" y="593" width="1" height="76" fill="#c0c0c0"/>
<rect x="318" y="594" width="1" height="75" fill="#c0c0c0"/>
<rect x="326" y="598" width="1" height="71" fill="#c0c0c0"/>
<rect x="334" y="604" width="1" height="65" fill="#c0c0c0"/>
<rect x="342" y="608" width="1" height="61" fill="#c0c0c0"/>
<rect x="350" y="612" width="1" height="57" fill="#c0c0c0"/>
<rect x="358" y="617" width="1" height="52" fill="#c0c0c0"/>
<rect x="366" y="618" width="1" height="51" fill="#c0c0c0"/>
<rect x="374" y="622" width="1" height="47" fill="#c0c0c0"/>
<rect x="382" y="625" width="1" height="44" fill="#c0c0c0"/>
<rect x="390" y="628" width="1" height="41" fill="#c0c0c0"/>
<rect x="398" y="629" width="1" height="40" fill="#c0c0c0"/>
<rect x="406" y="631" width="1" height="38" fill="#c0c0c0"/>
<rect x="414" y="630" width="1" height="39" fill="#c0c0c0"/>
<rect x="422" y="630" width="1" height="39" fill="#c0c0c0"/>
<rect x="430" y="628" width="1" height="41" fill="#c0c0c0"/>
<rect x="438" y="628" width="1" height="41" fill="#c0c0c0"/>
<rect x="446" y="628" width="1" height="41" fill="#c0c0c0"/>
<rect x="454" y="629" width="1" height="40" fill="#c0c0c0"/>
<rect x="462" y="630" width="1" height="39" fill="#c0c0c0"/>
<rect x="470" y="631" width="1" height="38" fill="#c0c0c0"/>
<rect x="478" y="633" width="1" height="36" fill="#c0c0c0"/>
<rect x="486" y="634" width="1" height="35" fill="#c0c0c0"/>
<rect x="494" y="637" width="1" height="32" fill="#c0c0c0"/>
<rect x="502" y="638" width="1" height="31" fill="#c0c0c0"/>
<rect x="510" y="640" width="1" height="29" fill="#c0c0c0"/>
<rect x="518" y="641" width="1" height="28" fill="#c0c0c0"/>
<rect x="526" y="643" width="1" height="26" fill="#c0c0c0"/>
<rect x="534" y="648" width="1" height="21" fill="#c0c0c0"/>
<rect x="542" y="653" width="1" height="16" fill="#c0c0c0"/>
<rect x="550" y="655" width="1" height="14" fill="#c0c0c0"/>
<rect x="558" y="659" width="1" height="10" fill="#c0c0c0"/>
<rect x="566" y="665" width="1" height="4" fill="#c0c0c0"/>
<rect x="574" y="667" width="1" height="2" fill="#c0c0c0"/>
<rect x="582" y="667" width="1" height="2" fill="#c0c0c0"/>
<rect x="590" y="668" width="1" height="1" fill="#c0c0c0"/>
<rect x="598" y="668" width="1" height="1" fill="#c0c0c0"/>
<rect x="606" y="668" width="1" height="1" fill="#c0c0c0"/>
<rect x="614" y="668" width="1" height="4" fill="#c0c0c0"/>
<rect x="622" y="668" width="1" height="9" fill="#c0c0c0"/>
<rect x="630" y="668" width="1" height="15" fill="#c0c0c0"/>
<rect x="638" y="668" width="1" height="19" fill="#c0c0c0"/>
<rect x="646" y="668" width="1" height="22" fill="#c0c0c0"/>
<rect x="654" y="668" width="1" height="29" fill="#c0c0c0"/>
<rect x="662" y="668" width="1" height="32" fill="#c0c0c0"/>
<rect x="670" y="668" width="1" height="32" fill="#c0c0c0"/>
<rect x="678" y="668" width="1" height="34" fill="#c0c0c0"/>
<rect x="686" y="668" width="1" height="34" fill="#c0c0c0"/>
<rect x="694" y="668" width="1" height="32" fill="#c0c0c0"/>
<rect x="702" y="668" width="1" height="33" fill="#c0c0c0"/>
<rect x="710" y="668" width="1" height="38" fill="#c0c0c0"/>
<rect x="718" y="668" width="1" height="50" fill="#c0c0c0"/>
<rect x="726" y="668" width="1" height="55" fill="#c0c0c0"/>
<rect x="734" y="668" width="1" height="57" fill="#c0c0c0"/>
<rect x="742" y="668" width="1" height="61" fill="#c0c0c0"/>
<rect x="750" y="668" width="1" height="64" fill="#c0c0c0"/>
<rect x="758" y="668" width="1" height="65" fill="#c0c0c0"/>
<rect x="766" y="668" width="1" height="65" fill="#c0c0c0"/>
<rect x="774" y="668" width="1" height="62" fill="#c0c0c0"/>
<rect x="782" y="668" width="1" height="58" fill="#c0c0c0"/>
<rect x="790" y="668" width="1" height="58" fill="#c0c0c0"/>
<rect x="798" y="668" width="1" height="53" fill="#c0c0c0"/>
<rect x="806" y="668" width="1" height="48" fill="#c0c0c0"/>
<rect x="814" y="668" width="1" height="43" fill="#c0c0c0"/>
<rect x="822" y="668" width="1" height="38" fill="#c0c0c0"/>
<rect x="830" y="668" width="1" height="36" fill="#c0c0c0"/>
<rect x="838" y="668" width="1" height="34" fill="#c0c0c0"/>
<rect x="846" y="668" width="1" height="30" fill="#c0c0c0"/>
<rect x="854" y="668" width="1" height="30" fill="#c0c0c0"/>
<rect x="862" y="668" width="1" height="30" fill="#c0c0c0"/>
<rect x="870" y="668" width="1" height="32" fill="#c0c0c0"/>
<rect x="878" y="668" width="1" height="33" fill="#c0c0c0"/>
<rect x="886" y="668" width="1" height="34" fill="#c0c0c0"/>
<rect x="894" y="668" width="1" height="38" fill="#c0c0c0"/>
<rect x="902" y="668" width="1" height="38" fill="#c0c0c0"/>
<rect x="910" y="668" width="1" height="37" fill="#c0c0c0"/>
<rect x="918" y="668" width="1" height="31" fill="#c0c0c0"/>
<rect x="926" y="668" width="1" height="27" fill="#c0c0c0"/>
<rect x="934" y="668" width="1" height="25" fill="#c0c0c0"/>
<rect x="942" y="668" width="1" height="34" fill="#c0c0c0"/>
<rect x="950" y="668" width="1" height="42" fill="#c0c0c0"/>
<rect x="958" y="668" width="1" height="47" fill="#c0c0c0"/>
<rect x="966" y="668" width="1" height="48" fill="#c0c0c0"/>
<rect x="974" y="668" width="1" height="46" fill="#c0c0c0"/>
<rect x="982" y="668" width="1" height="46" fill="#c0c0c0"/>
<rect x="990" y="668" width="1" height="41" fill="#c0c0c0"/>
<rect x="998" y="668" width="1" height="38" fill="#c0c0c0"/>
<rect x="1006" y="668" width="1" height="36" fill="#c0c0c0"/>
<rect x="1014" y="668" width="1" height="33" fill="#c0c0c0"/>
<rect x="1022" y="668" width="1" height="25" fill="#c0c0c0"/>
<rect x="1030" y="668" width="1" height="17" fill="#c0c0c0"/>
<rect x="1038" y="668" width="1" height="3" fill="#c0c0c0"/>
<rect x="1046" y="659" width="1" height="10" fill="#c0c0c0"/>
<rect x="1054" y="650" width="1" height="19" fill="#c0c0c0"/>
<rect x="1062" y="643" width="1" height="26" fill="#c0c0c0"/>
<rect x="1070" y="640" width="1" height="29" fill="#c0c0c0"/>
<rect x="1078" y="633" width="1" height="36" fill="#c0c0c0"/>
<rect x="1086" y="625" width="1" height="44" fill="#c0c0c0"/>
<rect x="1094" y="617" width="1" height="52" fill="#c0c0c0"/>
<rect x="1102" y="612" width="1" height="57" fill="#c0c0c0"/>
<rect x="1110" y="607" width="1" height="62" fill="#c0c0c0"/>
<rect x="1118" y="604" width="1" height="65" fill="#c0c0c0"/>
<rect x="1126" y="601" width="1" height="68" fill="#c0c0c0"/>
<rect x="1134" y="599" width="1" height="70" fill="#c0c0c0"/>
<rect x="1142" y="599" width="1" height="70" fill="#c0c0c0"/>
<rect x="1150" y="599" width="1" height="70" fill="#c0c0c0"/>
<rect x="1158" y="601" width="1" height="68" fill="#c0c0c0"/>
<rect x="1166" y="603" width="1" height="66" fill="#c0c0c0"/>
<rect x="1174" y="608" width="1" height="61" fill="#c0c0c0"/>
<rect x="1182" y="613" width="1" height="56" fill="#c0c0c0"/>
<rect x="1190" y="619" width="1" height="50" fill="#c0c0c0"/>
<rect x="1198" y="626" width="1" height="43" fill="#c0c0c0"/>
<rect x="1206" y="629" width="1" height="40" fill="#c0c0c0"/>
<rect x="1214" y="631" width="1" height="38" fill="#c0c0c0"/>
<rect x="1222" y="634" width="1" height="35" fill="#c0c0c0"/>
<rect x="1230" y="637" width="1" height="32" fill="#c0c0c0"/>
<rect x="1238" y="641" width="1" height="28" fill="#c0c0c0"/>
<rect x="1246" y="643" width="1" height="26" fill="#c0c0c0"/>
<rect x="1254" y="642" width="1" height="27" fill="#c0c0c0"/>
<rect x="1262" y="642" width="1" height="27" fill="#c0c0c0"/>
<rect x="1270" y="643" width="1" height="26" fill="#c0c0c0"/>
<rect x="1278" y="643" width="1" height="26" fill="#c0c0c0"/>
<rect x="1286" y="646" width="1" height="23" fill="#c0c0c0"/>
<rect x="1294" y="648" width="1" height="21" fill="#c0c0c0"/>
</g>
<polyline points="0.5,731.5 13.1,735.0 30.5,738.5 45.5,734.0 63.5,725.5 83.5,709.5 96.5,702.5 109.0,696.5 131.5,684.5 157.0,667.5 177.5,645.5 197.5,622.1 212.5,610.5 230.5,601.5 242.5,598.2 278.5,597.5 303.5,596.1 321.0,594.9 338.5,596.1 356.5,599.9 374.0,607.0 394.5,617.1 404.5,620.1 422.0,625.9 438.5,628.0 483.5,629.0 506.5,632.2 531.5,636.5 549.5,641.5 564.5,648.1 587.5,656.2 615.0,665.5 637.5,672.5 663.0,682.5 683.5,691.5 698.5,696.5 716.0,701.1 733.5,708.5 753.5,715.5 776.5,725.5 789.5,728.5 804.5,726.9 810.5,726.1 825.5,719.5 845.5,711.5 868.5,703.5 886.5,701.1 911.5,701.1 951.5,701.5 964.5,704.5 984.5,705.9 1002.5,709.2 1015.0,709.5 1027.5,705.9 1042.5,697.1 1063.0,677.5 1078.1,663.5 1098.5,643.1 1113.5,629.2 1133.5,614.5 1153.5,605.0 1171.5,602.5 1184.1,602.5 1199.5,607.0 1215.5,614.5 1230.5,621.5 1245.5,629.2 1256.0,634.3 1266.1,636.5 1281.5,639.1 1287.5,641.5 1293.5,641.8" fill="none" stroke="#ff0000" stroke-width="1" shape-rendering="crispEdges" stroke-dasharray="3,2"/>
<g shape-rendering="crispEdges">
<line x1="0" y1="789.5" x2="1617" y2="789.5" stroke="#c0c0c0" stroke-width="1" stroke-dasharray="3,3"/>
<line x1="0" y1="840.5" x2="1617" y2="840.5" stroke="#c0c0c0" stroke-width="1" stroke-dasharray="3,3"/>
<line x1="0" y1="901.5" x2="1617" y2="901.5" stroke="#c0c0c0" stroke-width="1" stroke-dasharray="3,3"/>
</g>
<polyline points="-1.5,876.5 6.5,870.5 14.5,866.5 22.5,868.5 30.5,849.5 38.5,841.5 46.5,843.5 54.5,840.5 62.5,848.5 70.5,843.5 78.5,832.5 86.5,836.5 94.5,861.5 102.5,843.5 110.5,841.5 118.5,830.0 126.5,833.5 134.5,816.1 142.5,823.5 150.5,819.5 158.5,816.1 166.5,813.5 174.5,811.5 182.5,812.5 190.5,813.5 198.5,812.5 206.5,811.5 214.5,809.5 222.5,813.5 230.5,816.5 238.5,815.5 246.5,812.5 254.5,812.5 262.5,804.5 270.5,802.5 278.5,801.5 286.5,799.0 294.5,796.5 302.5,806.5 310.5,806.5 318.5,804.0 326.5,809.5 334.5,822.5 342.5,819.5 350.5,818.5 358.5,825.5 366.5,817.5 374.5,823.5 382.5,827.0 390.5,824.5 398.5,821.5 406.5,821.5 414.5,811.5 422.5,811.5 430.5,809.1 438.5,807.0 446.5,807.0 454.5,815.5 462.5,814.5 470.5,816.5 478.5,813.5 486.5,813.5 494.5,823.5 502.5,817.5 510.5,822.5 518.5,822.9 526.5,821.2 534.5,847.5 542.5,846.5 550.5,838.1 558.5,852.0 566.5,862.5 574.5,848.5 582.5,838.5 590.5,840.5 598.5,841.5 606.5,849.5 614.5,852.0 622.5,862.5 630.5,870.5 638.5,870.5 646.5,867.5 654.5,881.5 662.5,865.5 670.5,861.1 678.5,866.5 686.5,860.5 694.5,854.0 702.5,864.1 710.5,873.5 718.5,887.5 726.5,869.5 734.5,868.5 742.5,873.5 750.5,873.5 758.5,872.5 766.5,871.5 774.5,866.1 782.5,859.0 790.5,867.5 798.5,851.0 806.5,851.0 814.5,850.5 822.5,845.5 830.5,851.5 838.5,852.5 846.5,848.5 854.5,854.5 862.5,858.5 870.5,863.5 878.5,864.5 886.5,861.5 894.5,872.5 902.5,862.5 910.5,854.0 918.5,840.5 926.5,842.5 934.5,850.5 942.5,872.5 950.5,874.5 958.5,871.5 966.5,860.5 974.5,855.5 982.5,859.5 990.5,848.5 998.5,849.5 1006.5,852.5 1014.5,847.5 1022.5,833.5 1030.5,829.5 1038.5,816.5 1046.5,811.5 1054.5,815.5 1062.5,815.5 1070.5,822.5 1078.5,813.5 1086.5,807.5 1094.5,805.5 1102.5,806.5 1110.5,804.5 1118.5,804.0 1126.5,803.5 1134.5,801.5 1142.5,801.5 1150.5,803.0 1158.5,809.1 1166.5,808.0 1174.5,817.5 1182.5,823.5 1190.5,827.0 1198.5,837.5 1206.5,828.0 1214.5,825.0 1222.5,828.0 1230.5,831.5 1238.5,835.5 1246.5,829.5 1254.5,821.5 1262.5,819.5 1270.5,825.5 1278.5,821.5 1286.5,837.5 1294.5,834.5" fill="none" stroke="#1e90ff" stroke-width="1" shape-rendering="crispEdges"/>
<g shape-rendering="crispEdges">
<rect x="1177" y="176" width="142" height="8" fill="#00ff00"/>
</g>
<line x1="1079" y1="98.3" x2="1396" y2="132.9" stroke="#00ff00" stroke-width="3.4" shape-rendering="crispEdges"/>
<polygon points="1404,133.4 1393.5,128.3 1392,137.3" fill="#00ff00" shape-rendering="crispEdges"/>
<polygon points="1126,200.5 1137,195 1135.5,198 1141,197.5 1141,203.5 1135.5,203 1137,205.5" fill="#00ff00" shape-rendering="crispEdges"/>
<line x1="958" y1="432" x2="1144.0" y2="113.9" stroke="#ff0000" stroke-width="3" stroke-linecap="round" shape-rendering="crispEdges"/>
<polygon points="1148.0,107.0 1147.1,118.1 1138.8,113.2" fill="#ff0000"/>
<line x1="1148" y1="108" x2="1191.1" y2="185.0" stroke="#ff0000" stroke-width="3" stroke-linecap="round" shape-rendering="crispEdges"/>
<polygon points="1195.0,192.0 1185.9,185.6 1194.3,180.9" fill="#ff0000"/>
<line x1="1195" y1="192" x2="1264.2" y2="127.5" stroke="#ff0000" stroke-width="3" stroke-linecap="round" shape-rendering="crispEdges"/>
<polygon points="1270.0,122.0 1266.0,132.3 1259.4,125.3" fill="#ff0000"/>
<line x1="1270" y1="122" x2="1289.5" y2="150.4" stroke="#ff0000" stroke-width="3" stroke-linecap="round" shape-rendering="crispEdges"/>
<polygon points="1294.0,157.0 1284.4,151.5 1292.3,146.0" fill="#ff0000"/>
<g shape-rendering="crispEdges">
<rect x="1383" y="176" width="10" height="1" fill="#ff0000"/>
<rect x="1393.5" y="164.5" width="73" height="24" fill="#fff" stroke="#ff0000" stroke-width="1"/>
</g>
<text x="1396" y="185" font-size="21.5" fill="#ff0000" text-anchor="start" font-family="'Liberation Sans', sans-serif" textLength="69" lengthAdjust="spacingAndGlyphs">109.651</text>
<text x="1395" y="255" font-size="32" font-weight="500" fill="#00ff00" font-family="'Liberation Serif', 'Noto Serif CJK SC', serif" style="text-shadow:1px 1px 0 #043a04" textLength="161" lengthAdjust="spacingAndGlyphs">多空转折点</text>
<polygon points="1286,27 1297,27 1291.5,32" fill="#c0c0c0"/>
<g shape-rendering="crispEdges">
<rect x="-1.5" y="121.5" width="4" height="4" fill="#fff" stroke="#ff0000" stroke-width="1"/>
<rect x="-1.5" y="191.5" width="4" height="4" fill="#fff" stroke="#0000ff" stroke-width="1"/>
<rect x="-1.5" y="213.5" width="4" height="4" fill="#fff" stroke="#0000ff" stroke-width="1"/>
<rect x="1612.5" y="98.5" width="4" height="4" fill="#fff" stroke="#ff0000" stroke-width="1"/>
<rect x="1612.5" y="121.5" width="4" height="4" fill="#fff" stroke="#ff0000" stroke-width="1"/>
<rect x="1612.5" y="191.5" width="4" height="4" fill="#fff" stroke="#0000ff" stroke-width="1"/>
<rect x="1612.5" y="213.5" width="4" height="4" fill="#fff" stroke="#0000ff" stroke-width="1"/>
</g>
<g shape-rendering="crispEdges">
<rect x="0" y="26" width="1618" height="1" fill="#000"/>
<rect x="1617" y="26" width="1" height="902" fill="#000"/>
<rect x="0" y="579" width="1618" height="1" fill="#000"/>
<rect x="0" y="581" width="1618" height="1" fill="#000"/>
<rect x="0" y="751" width="1618" height="1" fill="#000"/>
<rect x="0" y="753" width="1618" height="1" fill="#000"/>
<rect x="0" y="927" width="1618" height="1" fill="#000"/>
<rect x="1618" y="48" width="2" height="1" fill="#000"/>
<rect x="1618" y="81" width="2" height="1" fill="#000"/>
<rect x="1618" y="114" width="2" height="1" fill="#000"/>
<rect x="1618" y="147" width="2" height="1" fill="#000"/>
<rect x="1618" y="180" width="2" height="1" fill="#000"/>
<rect x="1618" y="213" width="2" height="1" fill="#000"/>
<rect x="1618" y="246" width="2" height="1" fill="#000"/>
<rect x="1618" y="279" width="2" height="1" fill="#000"/>
<rect x="1618" y="312" width="2" height="1" fill="#000"/>
<rect x="1618" y="345" width="2" height="1" fill="#000"/>
<rect x="1618" y="378" width="2" height="1" fill="#000"/>
<rect x="1618" y="411" width="2" height="1" fill="#000"/>
<rect x="1618" y="444" width="2" height="1" fill="#000"/>
<rect x="1618" y="477" width="2" height="1" fill="#000"/>
<rect x="1618" y="510" width="2" height="1" fill="#000"/>
<rect x="1618" y="543" width="2" height="1" fill="#000"/>
<rect x="1618" y="576" width="2" height="1" fill="#000"/>
<rect x="1618" y="668" width="2" height="1" fill="#000"/>
<rect x="1618" y="583" width="2" height="1" fill="#000"/>
<rect x="1618" y="750" width="2" height="1" fill="#000"/>
<rect x="1618" y="755" width="2" height="1" fill="#000"/>
<rect x="1618" y="925" width="2" height="1" fill="#000"/>
<rect x="-2" y="928" width="1" height="3" fill="#000"/>
<rect x="62" y="928" width="1" height="3" fill="#000"/>
<rect x="126" y="928" width="1" height="3" fill="#000"/>
<rect x="190" y="928" width="1" height="3" fill="#000"/>
<rect x="254" y="928" width="1" height="3" fill="#000"/>
<rect x="318" y="928" width="1" height="3" fill="#000"/>
<rect x="382" y="928" width="1" height="3" fill="#000"/>
<rect x="446" y="928" width="1" height="3" fill="#000"/>
<rect x="510" y="928" width="1" height="3" fill="#000"/>
<rect x="574" y="928" width="1" height="3" fill="#000"/>
<rect x="638" y="928" width="1" height="3" fill="#000"/>
<rect x="702" y="928" width="1" height="3" fill="#000"/>
<rect x="766" y="928" width="1" height="3" fill="#000"/>
<rect x="830" y="928" width="1" height="3" fill="#000"/>
<rect x="894" y="928" width="1" height="3" fill="#000"/>
<rect x="958" y="928" width="1" height="3" fill="#000"/>
<rect x="1022" y="928" width="1" height="3" fill="#000"/>
<rect x="1086" y="928" width="1" height="3" fill="#000"/>
<rect x="1150" y="928" width="1" height="3" fill="#000"/>
<rect x="1214" y="928" width="1" height="3" fill="#000"/>
<rect x="1278" y="928" width="1" height="3" fill="#000"/>
</g>
<text transform="translate(1623.5 51.5) scale(0.93 1)" font-size="9.7" fill="#000" text-anchor="start" font-family="'Liberation Sans', sans-serif" stroke="#000" stroke-width="0.2">110.315</text>
<text transform="translate(1623.5 84.5) scale(0.93 1)" font-size="9.7" fill="#000" text-anchor="start" font-family="'Liberation Sans', sans-serif" stroke="#000" stroke-width="0.2">110.145</text>
<text transform="translate(1623.5 117.5) scale(0.93 1)" font-size="9.7" fill="#000" text-anchor="start" font-family="'Liberation Sans', sans-serif" stroke="#000" stroke-width="0.2">109.975</text>
<text transform="translate(1623.5 150.5) scale(0.93 1)" font-size="9.7" fill="#000" text-anchor="start" font-family="'Liberation Sans', sans-serif" stroke="#000" stroke-width="0.2">109.800</text>
<text transform="translate(1623.5 183.5) scale(0.93 1)" font-size="9.7" fill="#000" text-anchor="start" font-family="'Liberation Sans', sans-serif" stroke="#000" stroke-width="0.2">109.630</text>
<text transform="translate(1623.5 216.5) scale(0.93 1)" font-size="9.7" fill="#000" text-anchor="start" font-family="'Liberation Sans', sans-serif" stroke="#000" stroke-width="0.2">109.460</text>
<text transform="translate(1623.5 249.5) scale(0.93 1)" font-size="9.7" fill="#000" text-anchor="start" font-family="'Liberation Sans', sans-serif" stroke="#000" stroke-width="0.2">109.290</text>
<text transform="translate(1623.5 282.5) scale(0.93 1)" font-size="9.7" fill="#000" text-anchor="start" font-family="'Liberation Sans', sans-serif" stroke="#000" stroke-width="0.2">109.120</text>
<text transform="translate(1623.5 315.5) scale(0.93 1)" font-size="9.7" fill="#000" text-anchor="start" font-family="'Liberation Sans', sans-serif" stroke="#000" stroke-width="0.2">108.950</text>
<text transform="translate(1623.5 348.5) scale(0.93 1)" font-size="9.7" fill="#000" text-anchor="start" font-family="'Liberation Sans', sans-serif" stroke="#000" stroke-width="0.2">108.780</text>
<text transform="translate(1623.5 381.5) scale(0.93 1)" font-size="9.7" fill="#000" text-anchor="start" font-family="'Liberation Sans', sans-serif" stroke="#000" stroke-width="0.2">108.605</text>
<text transform="translate(1623.5 414.5) scale(0.93 1)" font-size="9.7" fill="#000" text-anchor="start" font-family="'Liberation Sans', sans-serif" stroke="#000" stroke-width="0.2">108.435</text>
<text transform="translate(1623.5 447.5) scale(0.93 1)" font-size="9.7" fill="#000" text-anchor="start" font-family="'Liberation Sans', sans-serif" stroke="#000" stroke-width="0.2">108.265</text>
<text transform="translate(1623.5 480.5) scale(0.93 1)" font-size="9.7" fill="#000" text-anchor="start" font-family="'Liberation Sans', sans-serif" stroke="#000" stroke-width="0.2">108.095</text>
<text transform="translate(1623.5 513.5) scale(0.93 1)" font-size="9.7" fill="#000" text-anchor="start" font-family="'Liberation Sans', sans-serif" stroke="#000" stroke-width="0.2">107.925</text>
<text transform="translate(1623.5 546.5) scale(0.93 1)" font-size="9.7" fill="#000" text-anchor="start" font-family="'Liberation Sans', sans-serif" stroke="#000" stroke-width="0.2">107.755</text>
<text transform="translate(1623.5 579.5) scale(0.93 1)" font-size="9.7" fill="#000" text-anchor="start" font-family="'Liberation Sans', sans-serif" stroke="#000" stroke-width="0.2">107.585</text>
<text transform="translate(1621 591) scale(0.93 1)" font-size="9.7" fill="#000" text-anchor="start" font-family="'Liberation Sans', sans-serif" stroke="#000" stroke-width="0.2">0.3419</text>
<text transform="translate(1621 671.5) scale(0.93 1)" font-size="9.7" fill="#000" text-anchor="start" font-family="'Liberation Sans', sans-serif" stroke="#000" stroke-width="0.2">0.00</text>
<text transform="translate(1621 748) scale(0.93 1)" font-size="9.7" fill="#000" text-anchor="start" font-family="'Liberation Sans', sans-serif" stroke="#000" stroke-width="0.2">-0.3301</text>
<text transform="translate(1621 764) scale(0.93 1)" font-size="9.7" fill="#000" text-anchor="start" font-family="'Liberation Sans', sans-serif" stroke="#000" stroke-width="0.2">100</text>
<text transform="translate(1621 793) scale(0.93 1)" font-size="9.7" fill="#000" text-anchor="start" font-family="'Liberation Sans', sans-serif" stroke="#000" stroke-width="0.2">80</text>
<text transform="translate(1621 844) scale(0.93 1)" font-size="9.7" fill="#000" text-anchor="start" font-family="'Liberation Sans', sans-serif" stroke="#000" stroke-width="0.2">50</text>
<text transform="translate(1621 905) scale(0.93 1)" font-size="9.7" fill="#000" text-anchor="start" font-family="'Liberation Sans', sans-serif" stroke="#000" stroke-width="0.2">15</text>
<text transform="translate(1621 924) scale(0.93 1)" font-size="9.7" fill="#000" text-anchor="start" font-family="'Liberation Sans', sans-serif" stroke="#000" stroke-width="0.2">0</text>
<text transform="translate(-2.5 940) scale(0.93 1)" font-size="9.7" fill="#000" text-anchor="start" font-family="'Liberation Sans', sans-serif" stroke="#000" stroke-width="0.2">6 Jan 2020</text>
<text transform="translate(61.5 940) scale(0.93 1)" font-size="9.7" fill="#000" text-anchor="start" font-family="'Liberation Sans', sans-serif" stroke="#000" stroke-width="0.2">7 Jan 04:00</text>
<text transform="translate(125.5 940) scale(0.93 1)" font-size="9.7" fill="#000" text-anchor="start" font-family="'Liberation Sans', sans-serif" stroke="#000" stroke-width="0.2">8 Jan 12:00</text>
<text transform="translate(189.5 940) scale(0.93 1)" font-size="9.7" fill="#000" text-anchor="start" font-family="'Liberation Sans', sans-serif" stroke="#000" stroke-width="0.2">9 Jan 20:00</text>
<text transform="translate(253.5 940) scale(0.93 1)" font-size="9.7" fill="#000" text-anchor="start" font-family="'Liberation Sans', sans-serif" stroke="#000" stroke-width="0.2">13 Jan 04:00</text>
<text transform="translate(317.5 940) scale(0.93 1)" font-size="9.7" fill="#000" text-anchor="start" font-family="'Liberation Sans', sans-serif" stroke="#000" stroke-width="0.2">14 Jan 12:00</text>
<text transform="translate(381.5 940) scale(0.93 1)" font-size="9.7" fill="#000" text-anchor="start" font-family="'Liberation Sans', sans-serif" stroke="#000" stroke-width="0.2">15 Jan 20:00</text>
<text transform="translate(445.5 940) scale(0.93 1)" font-size="9.7" fill="#000" text-anchor="start" font-family="'Liberation Sans', sans-serif" stroke="#000" stroke-width="0.2">17 Jan 04:00</text>
<text transform="translate(509.5 940) scale(0.93 1)" font-size="9.7" fill="#000" text-anchor="start" font-family="'Liberation Sans', sans-serif" stroke="#000" stroke-width="0.2">20 Jan 12:00</text>
<text transform="translate(573.5 940) scale(0.93 1)" font-size="9.7" fill="#000" text-anchor="start" font-family="'Liberation Sans', sans-serif" stroke="#000" stroke-width="0.2">21 Jan 20:00</text>
<text transform="translate(637.5 940) scale(0.93 1)" font-size="9.7" fill="#000" text-anchor="start" font-family="'Liberation Sans', sans-serif" stroke="#000" stroke-width="0.2">23 Jan 04:00</text>
<text transform="translate(701.5 940) scale(0.93 1)" font-size="9.7" fill="#000" text-anchor="start" font-family="'Liberation Sans', sans-serif" stroke="#000" stroke-width="0.2">24 Jan 12:00</text>
<text transform="translate(765.5 940) scale(0.93 1)" font-size="9.7" fill="#000" text-anchor="start" font-family="'Liberation Sans', sans-serif" stroke="#000" stroke-width="0.2">27 Jan 20:00</text>
<text transform="translate(829.5 940) scale(0.93 1)" font-size="9.7" fill="#000" text-anchor="start" font-family="'Liberation Sans', sans-serif" stroke="#000" stroke-width="0.2">29 Jan 04:00</text>
<text transform="translate(893.5 940) scale(0.93 1)" font-size="9.7" fill="#000" text-anchor="start" font-family="'Liberation Sans', sans-serif" stroke="#000" stroke-width="0.2">30 Jan 12:00</text>
<text transform="translate(957.5 940) scale(0.93 1)" font-size="9.7" fill="#000" text-anchor="start" font-family="'Liberation Sans', sans-serif" stroke="#000" stroke-width="0.2">2 Feb 23:00</text>
<text transform="translate(1021.5 940) scale(0.93 1)" font-size="9.7" fill="#000" text-anchor="start" font-family="'Liberation Sans', sans-serif" stroke="#000" stroke-width="0.2">4 Feb 04:00</text>
<text transform="translate(1085.5 940) scale(0.93 1)" font-size="9.7" fill="#000" text-anchor="start" font-family="'Liberation Sans', sans-serif" stroke="#000" stroke-width="0.2">5 Feb 12:00</text>
<text transform="translate(1149.5 940) scale(0.93 1)" font-size="9.7" fill="#000" text-anchor="start" font-family="'Liberation Sans', sans-serif" stroke="#000" stroke-width="0.2">6 Feb 20:00</text>
<text transform="translate(1213.5 940) scale(0.93 1)" font-size="9.7" fill="#000" text-anchor="start" font-family="'Liberation Sans', sans-serif" stroke="#000" stroke-width="0.2">10 Feb 04:00</text>
<text transform="translate(1277.5 940) scale(0.93 1)" font-size="9.7" fill="#000" text-anchor="start" font-family="'Liberation Sans', sans-serif" stroke="#000" stroke-width="0.2">11 Feb 12:00</text>
<rect x="1619" y="94" width="41" height="11" fill="#ff0000" shape-rendering="crispEdges"/>
<text transform="translate(1623.5 103) scale(0.93 1)" font-size="9.7" fill="#fff" text-anchor="start" font-family="'Liberation Sans', sans-serif">110.043</text>
<rect x="1619" y="117" width="41" height="11" fill="#ff0000" shape-rendering="crispEdges"/>
<text transform="translate(1623.5 126) scale(0.93 1)" font-size="9.7" fill="#fff" text-anchor="start" font-family="'Liberation Sans', sans-serif">109.924</text>
<rect x="1619" y="147" width="41" height="11" fill="#000000" shape-rendering="crispEdges"/>
<text transform="translate(1623.5 156) scale(0.93 1)" font-size="9.7" fill="#fff" text-anchor="start" font-family="'Liberation Sans', sans-serif">109.778</text>
<rect x="1619" y="170" width="41" height="11" fill="#32cd32" shape-rendering="crispEdges"/>
<text transform="translate(1623.5 179) scale(0.93 1)" font-size="9.7" fill="#fff" text-anchor="start" font-family="'Liberation Sans', sans-serif">109.651</text>
<rect x="1619" y="187" width="41" height="11" fill="#0000ff" shape-rendering="crispEdges"/>
<text transform="translate(1623.5 196) scale(0.93 1)" font-size="9.7" fill="#fff" text-anchor="start" font-family="'Liberation Sans', sans-serif">109.563</text>
<rect x="1619" y="209" width="41" height="11" fill="#0000ff" shape-rendering="crispEdges"/>
<text transform="translate(1623.5 218) scale(0.93 1)" font-size="9.7" fill="#fff" text-anchor="start" font-family="'Liberation Sans', sans-serif">109.449</text>
<text transform="scale(0.93 1)" y="38" font-size="9.7" fill="#000" stroke="#000" stroke-width="0.2" font-family="'Liberation Sans', sans-serif"><tspan x="14.5">USDJPY-,H4  </tspan><tspan x="79">109.745 </tspan><tspan x="118.3">109.782 </tspan><tspan x="156.5">109.719 </tspan><tspan x="195.2">109.778</tspan></text>
<polygon points="1,37.5 8,37.5 4.5,33" fill="#000"/>
<text x="2" y="594" font-size="9.7" fill="#000" text-anchor="start" font-family="'Liberation Sans', sans-serif" textLength="128" lengthAdjust="spacingAndGlyphs" stroke="#000" stroke-width="0.2">MACD(12,26,9) 0.0836 0.1052</text>
<text x="2" y="766" font-size="9.7" fill="#000" text-anchor="start" font-family="'Liberation Sans', sans-serif" textLength="67.5" lengthAdjust="spacingAndGlyphs" stroke="#000" stroke-width="0.2">RSI(14) 53.7651</text>
</svg>
<div id="tp">
 <div style="left:0;top:45px;width:222px;height:66px;background:#fff"></div>
 <div class="big" style="left:1px;top:70px;width:109px;height:40px"></div>
 <div class="big" style="left:112px;top:70px;width:108px;height:40px"></div>
 <div class="tab" style="left:1px;top:46px;width:52px;height:25px;border-bottom:none"></div>
 <div class="tab" style="left:168px;top:46px;width:52px;height:25px;border-bottom:none"></div>
 <div style="left:5px;top:69px;width:44px;height:1px;background:#f7b0b0"></div>
 <div style="left:5px;top:70px;width:44px;height:1px;background:#a81010"></div>
 <div style="left:172px;top:69px;width:44px;height:1px;background:#f7b0b0"></div>
 <div style="left:172px;top:70px;width:44px;height:1px;background:#a81010"></div>
 <div class="lbl" style="left:13px;top:52px;letter-spacing:0px">SELL</div>
 <div class="lbl" style="left:181px;top:52px;letter-spacing:0.8px">BUY</div>
 <div style="left:55px;top:46px;width:111px;height:22px;background:#fff;border:1px solid #a8a8a8;border-radius:2px"></div>
 <div style="left:57px;top:48px;width:19px;height:18px;background:linear-gradient(#f6f6f6,#c6c6c6);border:1px solid #d0d0d0"></div>
 <div style="left:145px;top:48px;width:20px;height:18px;background:linear-gradient(#f6f6f6,#c6c6c6);border:1px solid #d0d0d0"></div>
 <div style="left:76px;top:47px;width:1px;height:20px;background:#b0b0b0"></div>
 <div style="left:144px;top:47px;width:1px;height:20px;background:#b0b0b0"></div>
 <div style="left:63px;top:55px;width:0;height:0;border-left:3px solid transparent;border-right:3px solid transparent;border-top:3px solid #5565c5"></div>
 <div style="left:151.5px;top:55px;width:0;height:0;border-left:3px solid transparent;border-right:3px solid transparent;border-bottom:3px solid #5565c5"></div>
 <div style="left:100px;top:50px;width:42.5px;height:14px;color:#000;font-size:12px;line-height:14px;text-align:right;letter-spacing:0.5px">1.00</div>
 <div class="s109" style="left:23.5px;top:90.5px">109</div>
 <div class="sbig" style="left:47.5px;top:72.5px">77</div>
 <div class="ssup" style="left:87px;top:74.5px">8</div>
 <div class="s109" style="left:134px;top:90.5px">109</div>
 <div class="sbig" style="left:158px;top:72.5px">79</div>
 <div class="ssup" style="left:197.5px;top:74.5px">8</div>
</div>
<div id="rb"></div><div id="bb"></div>
</body></html>
